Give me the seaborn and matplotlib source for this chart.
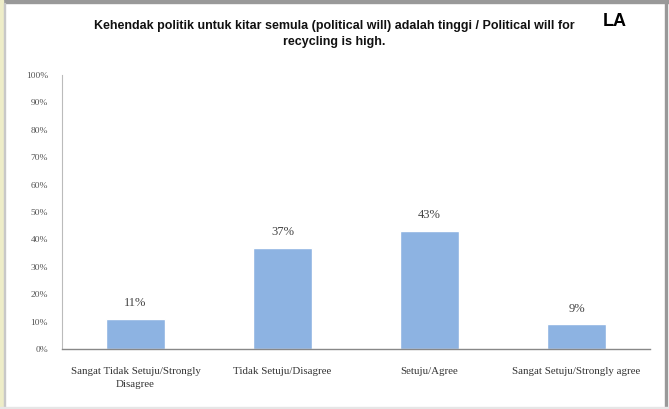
import matplotlib
matplotlib.use("Agg")
import matplotlib.pyplot as plt
from matplotlib.patches import Rectangle
from matplotlib.ticker import FixedLocator
import seaborn as sns
import pandas as pd

categories = ["Sangat Tidak Setuju/Strongly\nDisagree", "Tidak Setuju/Disagree",
              "Setuju/Agree", "Sangat Setuju/Strongly agree"]
values = [11, 37, 43, 9]
ytick_values = [0, 10, 20, 30, 40, 50, 60, 70, 80, 90, 100]
ytick_labels = [f"{v}%" for v in ytick_values]
title = "Kehendak politik untuk kitar semula (political will) adalah tinggi / Political will for\nrecycling is high."

df = pd.DataFrame({"cat": categories, "val": values})

sns.set_style("white")
W, H = 669, 409
fig = plt.figure(figsize=(W / 100, H / 100), dpi=100)
ax = fig.add_axes([62 / W, 1 - 349 / H, (650 - 62) / W, (349 - 75) / H])

sns.barplot(data=df, x="cat", y="val", color="#8DB3E2", saturation=1, width=0.4, ax=ax)

ax.set_ylim(0, 100)
ax.set_xlim(-0.5, 3.5)
ax.set_yticks(ytick_values)
ax.set_yticklabels(ytick_labels, fontfamily="Liberation Serif", fontsize=6.8, color="#555555")
ax.set_xticklabels(categories, fontfamily="Liberation Serif", fontsize=7.8, color="#333333",
                   linespacing=1.5)
ax.tick_params(axis="x", which="major", length=0, pad=13)
ax.tick_params(axis="y", which="major", length=0, pad=10)
ax.xaxis.set_minor_locator(FixedLocator([0.5, 1.5, 2.5, 3.5]))
ax.tick_params(axis="x", which="minor", length=4, color="#888888", width=0.8, direction="out")
ax.set_xlabel("")
ax.set_ylabel("")

for s in ["top", "right"]:
    ax.spines[s].set_visible(False)
ax.spines["left"].set_color("#BBBBBB")
ax.spines["left"].set_linewidth(0.8)
ax.spines["bottom"].set_color("#888888")
ax.spines["bottom"].set_linewidth(1.0)

labels = [f"{v}%" for v in values]
ax.bar_label(ax.containers[0], labels=labels, padding=7, fontfamily="Liberation Serif",
             fontsize=9, color="#444444")

fig.text(334 / W, 1 - 34 / H, title, ha="center", va="center", fontsize=9,
         fontweight="bold", fontfamily="Liberation Sans", linespacing=1.45, color="#111111")
fig.text(615 / W, 1 - 22 / H, "LA", ha="center", va="center", fontsize=13,
         fontweight="bold", fontfamily="Liberation Sans", color="black")

# frame
fig.patches.append(Rectangle((0, 1 - 3 / H), 1, 3 / H, transform=fig.transFigure,
                             color="#999999", zorder=0))
fig.patches.append(Rectangle((0, 0), 3 / W, 1, transform=fig.transFigure,
                             color="#EEEDC8", zorder=0))
fig.patches.append(Rectangle((3.5 / W, 0), 1.5 / W, 1 - 3 / H, transform=fig.transFigure,
                             color="#C8C8C8", zorder=0))
fig.patches.append(Rectangle((665 / W, 0), 1.5 / W, 1, transform=fig.transFigure,
                             color="#999999", zorder=0))
fig.patches.append(Rectangle((0, 0), 1, 2 / H, transform=fig.transFigure,
                             color="#E6E6E6", zorder=0))

fig.savefig("out.png", dpi=100)
